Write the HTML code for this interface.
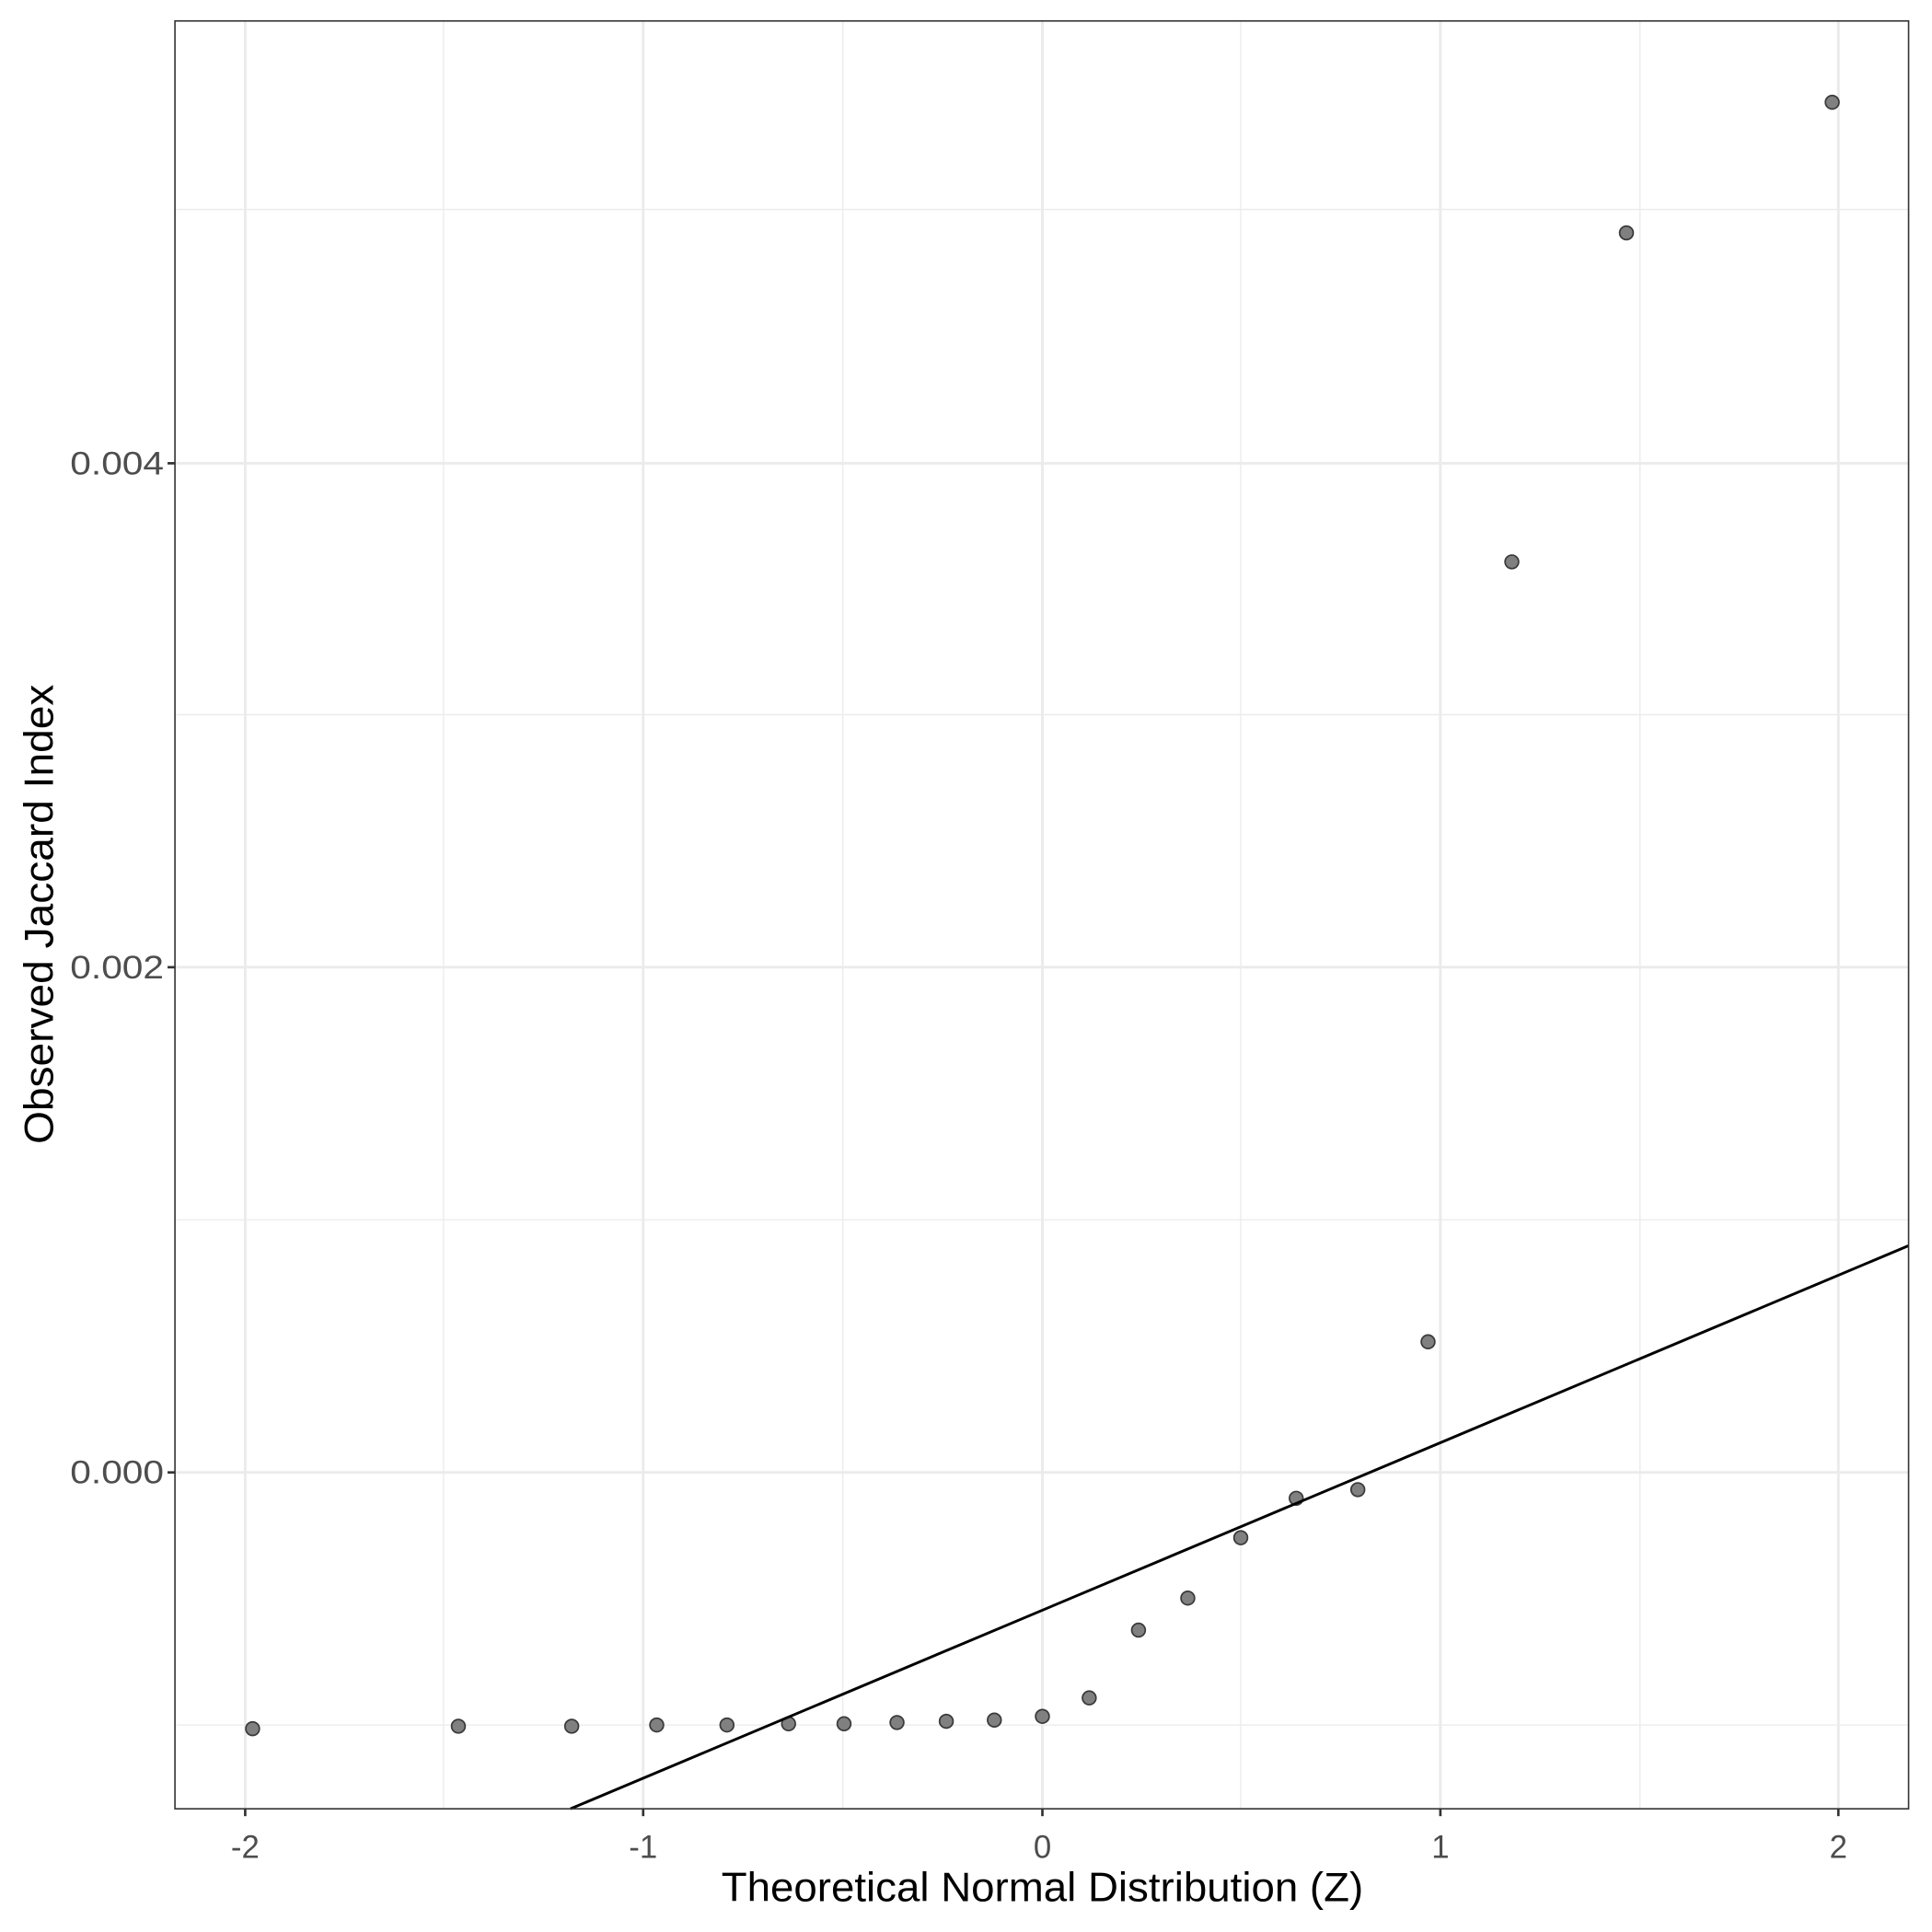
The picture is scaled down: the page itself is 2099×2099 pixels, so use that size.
<!DOCTYPE html>
<html><head><meta charset="utf-8"><style>html,body{margin:0;padding:0;background:#fff}svg{display:block}</style></head>
<body>
<svg xmlns="http://www.w3.org/2000/svg" width="2099" height="2099" viewBox="0 0 1568 1568">
<rect width="1568" height="1568" fill="#fff"/>
<g stroke="#ebebeb" stroke-width="1">
<line x1="360" y1="17" x2="360" y2="1468"/><line x1="684" y1="17" x2="684" y2="1468"/>
<line x1="1007" y1="17" x2="1007" y2="1468"/><line x1="1331" y1="17" x2="1331" y2="1468"/>
<line x1="142" y1="170" x2="1549" y2="170"/><line x1="142" y1="580" x2="1549" y2="580"/>
<line x1="142" y1="990" x2="1549" y2="990"/><line x1="142" y1="1400" x2="1549" y2="1400"/>
</g>
<g stroke="#ebebeb" stroke-width="2.2">
<line x1="199" y1="17" x2="199" y2="1468"/><line x1="522" y1="17" x2="522" y2="1468"/>
<line x1="846" y1="17" x2="846" y2="1468"/><line x1="1169" y1="17" x2="1169" y2="1468"/>
<line x1="1492" y1="17" x2="1492" y2="1468"/>
<line x1="142" y1="376" x2="1549" y2="376"/><line x1="142" y1="785" x2="1549" y2="785"/>
<line x1="142" y1="1195" x2="1549" y2="1195"/>
</g>
<g fill="#808080" stroke="#3a3a3a" stroke-width="1.3">
<circle cx="205" cy="1403" r="5.5"/><circle cx="372" cy="1401" r="5.5"/><circle cx="464" cy="1401" r="5.5"/>
<circle cx="533" cy="1400" r="5.5"/><circle cx="590" cy="1400" r="5.5"/><circle cx="640" cy="1399" r="5.5"/>
<circle cx="685" cy="1399" r="5.5"/><circle cx="728" cy="1398" r="5.5"/><circle cx="768" cy="1397" r="5.5"/>
<circle cx="807" cy="1396" r="5.5"/><circle cx="846" cy="1393" r="5.5"/><circle cx="884" cy="1378" r="5.5"/>
<circle cx="924" cy="1323" r="5.5"/><circle cx="964" cy="1297" r="5.5"/><circle cx="1007" cy="1248" r="5.5"/>
<circle cx="1052" cy="1216" r="5.5"/><circle cx="1102" cy="1209" r="5.5"/><circle cx="1159" cy="1089" r="5.5"/>
<circle cx="1227" cy="456" r="5.5"/><circle cx="1320" cy="189" r="5.5"/><circle cx="1487" cy="83" r="5.5"/>
</g>
<line x1="463" y1="1468" x2="1549" y2="1011" stroke="#000" stroke-width="2.2"/>
<rect x="142" y="17" width="1407" height="1451" fill="none" stroke="#333" stroke-width="1.2"/>
<g stroke="#333" stroke-width="2">
<line x1="199" y1="1468" x2="199" y2="1474"/><line x1="522" y1="1468" x2="522" y2="1474"/>
<line x1="846" y1="1468" x2="846" y2="1474"/><line x1="1169" y1="1468" x2="1169" y2="1474"/>
<line x1="1492" y1="1468" x2="1492" y2="1474"/>
<line x1="136" y1="376" x2="142" y2="376"/><line x1="136" y1="785" x2="142" y2="785"/>
<line x1="136" y1="1195" x2="142" y2="1195"/>
</g>
<g font-family="Liberation Sans, Arial, sans-serif" font-size="26" fill="#4d4d4d">
<g text-anchor="middle">
<text x="199" y="1508">-2</text><text x="522" y="1508">-1</text><text x="846" y="1508">0</text>
<text x="1169" y="1508">1</text><text x="1492" y="1508">2</text>
</g>
<g text-anchor="end">
<text x="133" y="385" textLength="76" lengthAdjust="spacingAndGlyphs">0.004</text>
<text x="133" y="794" textLength="76" lengthAdjust="spacingAndGlyphs">0.002</text>
<text x="133" y="1204" textLength="76" lengthAdjust="spacingAndGlyphs">0.000</text>
</g>
</g>
<g font-family="Liberation Sans, Arial, sans-serif" font-size="33" fill="#000" text-anchor="middle">
<text x="846" y="1543" textLength="521" lengthAdjust="spacingAndGlyphs">Theoretical Normal Distribution (Z)</text>
<text transform="translate(43,742) rotate(-90)" textLength="373" lengthAdjust="spacingAndGlyphs">Observed Jaccard Index</text>
</g>
</svg>
</body></html>
